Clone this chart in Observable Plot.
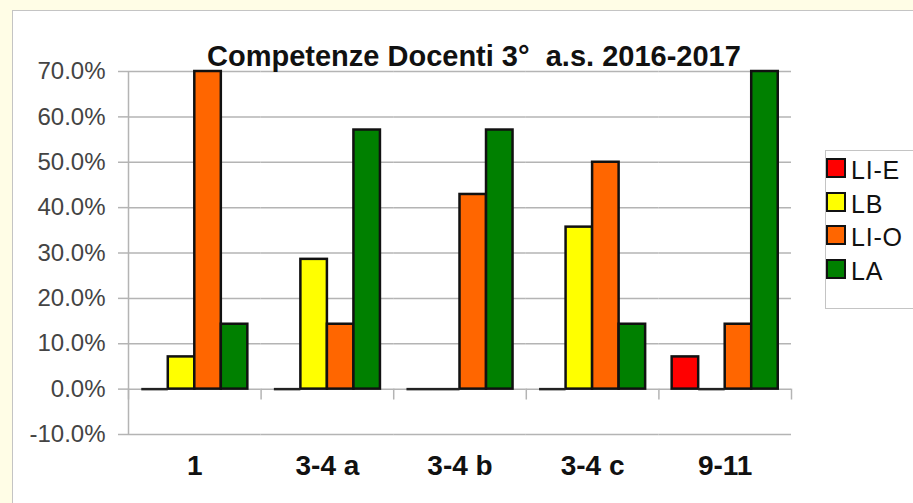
<!DOCTYPE html>
<html>
<head>
<meta charset="utf-8">
<script src="https://cdn.jsdelivr.net/npm/d3@7"></script>
<script src="https://cdn.jsdelivr.net/npm/@observablehq/plot@0.6"></script>
<style>
  html, body { margin: 0; padding: 0; }
  body { width: 913px; height: 503px; background: #fffde6; position: relative; overflow: hidden;
         font-family: "Liberation Sans", Arial, sans-serif; }
  #panel { position: absolute; left: 12px; top: 10px; right: -4px; bottom: -4px; background: #fff;
           border: 1.5px solid #c4c4c4; }
  #chart { position: absolute; left: 0; top: 0; }
  #title { position: absolute; left: 207px; top: 42px; font-size: 29px; font-weight: bold; line-height: 29px;
           white-space: pre; color: #111; }
  #legend { position: absolute; left: 825px; top: 150px; width: 100px; height: 159px; background: #fff;
            border: 1.5px solid #c4c4c4; box-sizing: border-box; }
  .item { position: absolute; left: 0; height: 20px; }
  .sw { position: absolute; left: 0; top: 0; width: 20px; height: 20px; border: 2px solid #111; box-sizing: border-box; }
  .lb { position: absolute; left: 25px; top: -2px; font-size: 25px; line-height: 28px; letter-spacing: 0.8px; color: #111; white-space: nowrap; }
</style>
</head>
<body>
<div id="panel"></div>
<div id="chart"></div>
<div id="title"></div>
<div id="legend"></div>
<script>
const titleText = "Competenze Docenti 3°  a.s. 2016-2017";
const categories = ["1", "3-4 a", "3-4 b", "3-4 c", "9-11"];
const series = ["LI-E", "LB", "LI-O", "LA"];
const colors = ["#ff0000", "#ffff00", "#ff6600", "#008000"];
// values in percent, per category (same order as categories)
const valuesLIE = [0, 0, 0, 0, 7.1];
const valuesLB  = [7.1, 28.6, 0, 35.7, 0];
const valuesLIO = [70.0, 14.3, 42.9, 50.0, 14.3];
const valuesLA  = [14.3, 57.1, 57.1, 14.3, 70.0];
const yTicks = [-10, 0, 10, 20, 30, 40, 50, 60, 70];

const seriesValues = [valuesLIE, valuesLB, valuesLIO, valuesLA];
const data = [];
categories.forEach((c, i) => series.forEach((s, j) => data.push({cat: c, series: s, value: seriesValues[j][i]})));

const W = 913, H = 503, mL = 128, mR = 122, mT = 71, mB = 69;
const facetW = (W - mL - mR) / categories.length;
const step = facetW / (series.length + 1);

const grey = "#b4b4b4";

const plot = Plot.plot({
  width: W, height: H,
  marginLeft: mL, marginRight: mR, marginTop: mT, marginBottom: mB,
  style: {background: "transparent", fontFamily: "Liberation Sans, Arial, sans-serif", overflow: "visible"},
  fx: {domain: categories, paddingInner: 0, paddingOuter: 0, label: null, round: false},
  x: {domain: series, paddingInner: 0, paddingOuter: 0.5, axis: null, round: false},
  y: {domain: [-10, 70], label: null},
  color: {domain: series, range: colors},
  marks: [
    Plot.ruleY(yTicks, {stroke: grey, strokeWidth: 1.5}),
    Plot.axisY({ticks: yTicks, tickFormat: d => d.toFixed(1) + "%", tickSize: 10, tickPadding: 13,
                stroke: grey, strokeWidth: 1.5, fill: "#444", fontSize: 24, label: null}),
    Plot.ruleX(categories.map(c => ({cat: c, s: "LI-E"})), {fx: "cat", x: "s", y1: 0, y2: -2.4, dx: -step, stroke: grey, strokeWidth: 1.5}),
    Plot.ruleX([{cat: categories[categories.length - 1], s: "LA"}], {fx: "cat", x: "s", y1: 0, y2: -2.4, dx: step, stroke: grey, strokeWidth: 1.5}),
    Plot.ruleX([{cat: categories[0], s: "LI-E"}], {fx: "cat", x: "s", y1: -10, y2: 70, dx: -step, stroke: grey, strokeWidth: 1.5}),
    Plot.barY(data.filter(d => d.value > 0), {fx: "cat", x: "series", y: "value", fill: "series", stroke: "#111", strokeWidth: 2.5}),
    Plot.tickY(data.filter(d => d.value === 0), {fx: "cat", x: "series", y: "value", stroke: "#222", strokeWidth: 2.5}),
    Plot.axisFx({anchor: "bottom", tickSize: 0, tickPadding: 21, fontSize: 28, fontWeight: "bold", fill: "#111", label: null})
  ]
});
document.getElementById("chart").appendChild(plot);
document.getElementById("title").textContent = titleText;

const legend = document.getElementById("legend");
series.forEach((s, i) => {
  const it = document.createElement("div");
  it.className = "item";
  it.style.top = (7 + i * 33.7) + "px";
  const sw = document.createElement("div");
  sw.className = "sw";
  sw.style.background = colors[i];
  const lb = document.createElement("div");
  lb.className = "lb";
  lb.textContent = s;
  it.appendChild(sw); it.appendChild(lb);
  legend.appendChild(it);
});
</script>
</body>
</html>
